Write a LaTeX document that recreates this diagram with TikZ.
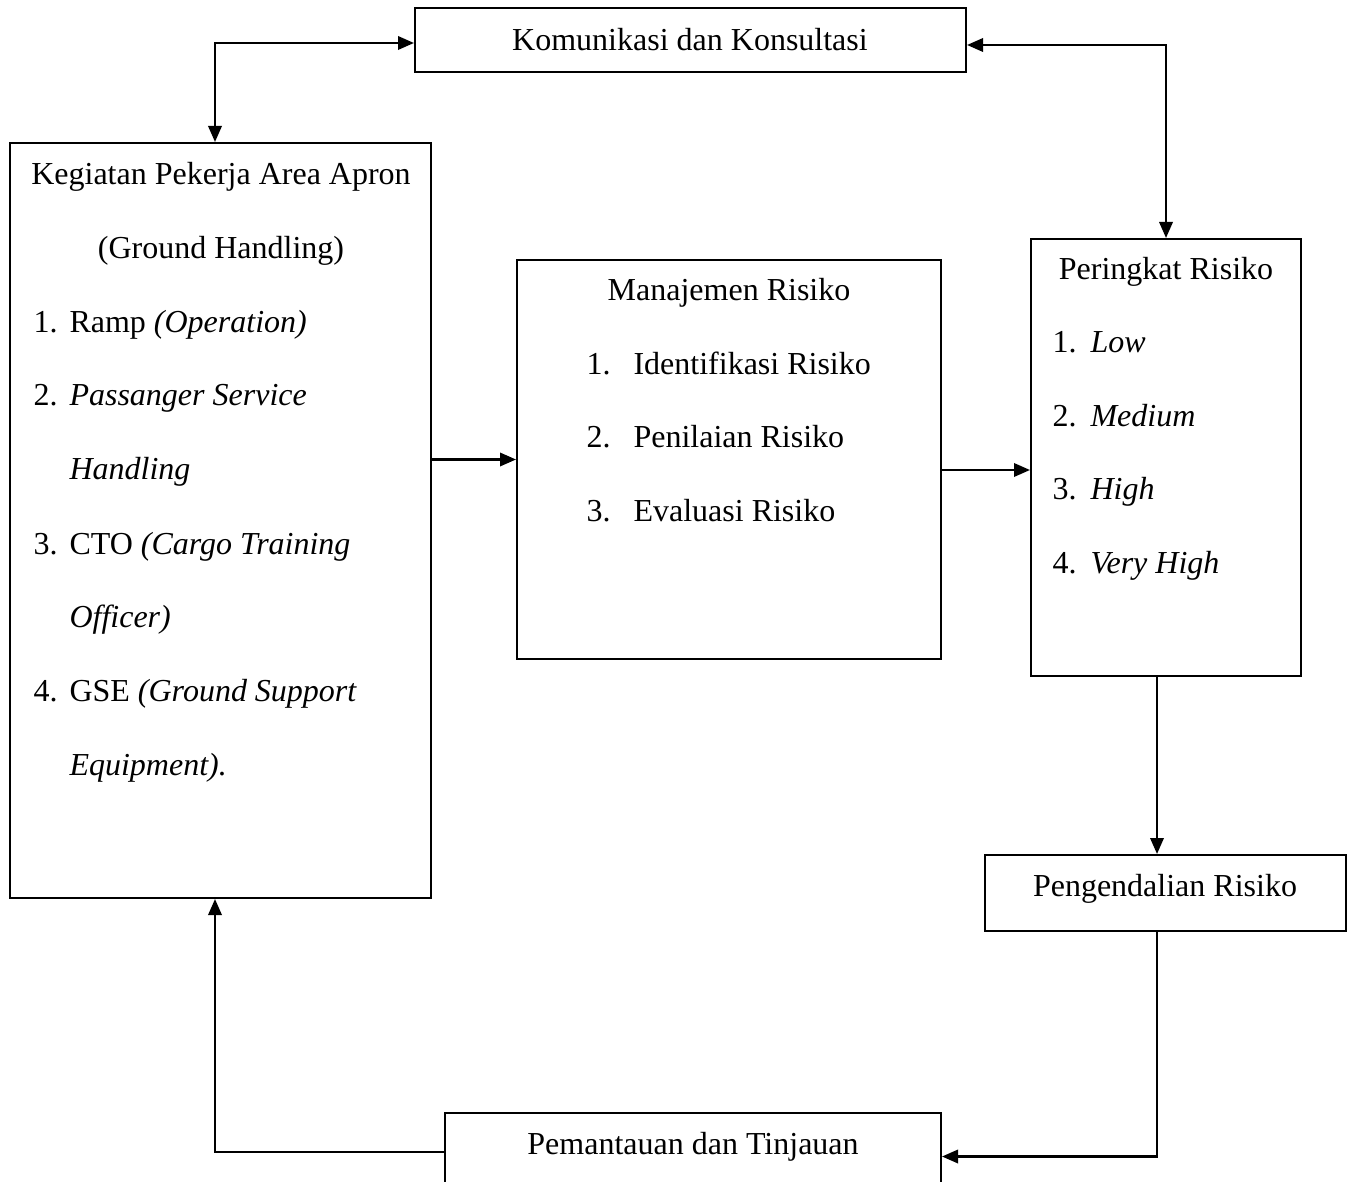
\documentclass[tikz,border=0pt]{standalone}
\usepackage{fontspec}
\setmainfont{Liberation Serif}
\usetikzlibrary{arrows.meta,fit}
\begin{document}
\begin{tikzpicture}[x=0.375pt,y=-0.375pt,
 box/.style={draw,line width=0.75pt,inner sep=0pt},
 conn/.style={line width=0.9pt},
 arr/.style={conn,-{Triangle[length=6pt,width=5pt]}},
 arrb/.style={conn,{Triangle[length=6pt,width=5pt]}-{Triangle[length=6pt,width=5pt]}},
 txt/.style={anchor=base,inner sep=0pt,font=\fontsize{12}{14}\selectfont},
 ltxt/.style={txt,anchor=base west}]
\useasboundingbox (0,0) rectangle (1354,1182);
\clip (0,0) rectangle (1354,1182);
\fill[white] (0,0) rectangle (1354,1182);

% boxes
\node[box,fit={(415,8) (966,72)}] (kom) {};
\node[box,fit={(10,143) (431,898)}] (keg) {};
\node[box,fit={(517,260) (941,659)}] (man) {};
\node[box,fit={(1031,239) (1301,676)}] (per) {};
\node[box,fit={(985,855) (1346,931)}] (pen) {};
\node[box,fit={(445,1113) (941,1200)}] (pem) {};

% texts
\node[txt] (tkom) at (690,51) {Komunikasi dan Konsultasi};

\node[txt] (k0) at (221,185) {Kegiatan Pekerja Area Apron};
\node[txt] (k1) at (221,259) {(Ground Handling)};
\node[ltxt] (k2n) at (33,333) {1.};
\node[ltxt] (k2) at (69,333) {Ramp \textit{(Operation)}};
\node[ltxt] (k3n) at (33,406) {2.};
\node[ltxt] (k3) at (69,406) {\textit{Passanger Service}};
\node[ltxt] (k4) at (69,480) {\textit{Handling}};
\node[ltxt] (k5n) at (33,554) {3.};
\node[ltxt] (k5) at (69,554) {CTO \textit{(Cargo Training}};
\node[ltxt] (k6) at (69,627) {\textit{Officer)}};
\node[ltxt] (k7n) at (33,701) {4.};
\node[ltxt] (k7) at (69,701) {GSE \textit{(Ground Support}};
\node[ltxt] (k8) at (69,775) {\textit{Equipment).}};

\node[txt] (m0) at (729,301) {Manajemen Risiko};
\node[ltxt] (m1n) at (586,375) {1.};
\node[ltxt] (m1) at (633,375) {Identifikasi Risiko};
\node[ltxt] (m2n) at (586,448) {2.};
\node[ltxt] (m2) at (633,448) {Penilaian Risiko};
\node[ltxt] (m3n) at (586,522) {3.};
\node[ltxt] (m3) at (633,522) {Evaluasi Risiko};

\node[txt] (p0) at (1166,280) {Peringkat Risiko};
\node[ltxt] (p1n) at (1052,353) {1.};
\node[ltxt] (p1) at (1090,353) {\textit{Low}};
\node[ltxt] (p2n) at (1052,427) {2.};
\node[ltxt] (p2) at (1090,427) {\textit{Medium}};
\node[ltxt] (p3n) at (1052,500) {3.};
\node[ltxt] (p3) at (1090,500) {\textit{High}};
\node[ltxt] (p4n) at (1052,573) {4.};
\node[ltxt] (p4) at (1090,573) {\textit{Very High}};

\node[txt] (tpen) at (1165,896) {Pengendalian Risiko};
\node[txt] (tpem) at (693,1154) {Pemantauan dan Tinjauan};

% connectors
\coordinate (cL) at (215,0);
\coordinate (cR) at (1157,0);
\coordinate (cT1) at (0,43);
\coordinate (cT2) at (0,45);
\draw[arrb] (keg.north -| cL) |- (kom.west |- cT1);
\draw[arrb] (kom.east |- cT2) -| (per.north);
\draw[arr] (man.west -| keg.east) -- (man.west);
\coordinate (cM) at (0,470);
\draw[arr] (man.east |- cM) -- (per.west |- cM);
\draw[arr] (per.south -| cR) -- (pen.north -| cR);
\draw[arr] (pen.south -| cR) |- (pem.east);
\coordinate (cB) at (0,1152);
\draw[arr] (pem.west |- cB) -| (keg.south -| cL);
\end{tikzpicture}
\end{document}
